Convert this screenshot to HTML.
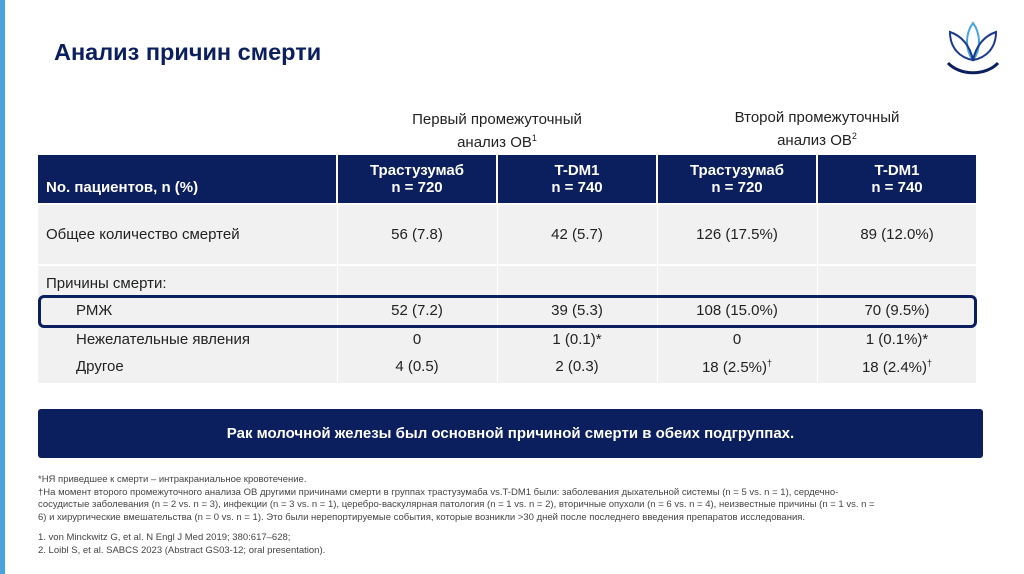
<!DOCTYPE html>
<html><head><meta charset="utf-8"><style>
*{margin:0;padding:0;box-sizing:border-box}
body{width:1024px;height:574px;overflow:hidden;background:#fff;font-family:"Liberation Sans",sans-serif;position:relative;color:#222}
.a{position:absolute}
.hd{background:#0b1f5e;color:#fff;font-weight:bold;font-size:15px;text-align:center;line-height:17px}
.c{text-align:center;font-size:15px}
.bg{background:#f1f1f1}
</style></head><body>
<div class="a" style="left:0;top:0;width:5px;height:574px;background:#4aa3df"></div>
<div class="a" style="left:54px;top:39px;font-size:23.5px;font-weight:bold;color:#0b1f5e">Анализ причин смерти</div>
<svg class="a" style="left:940px;top:20px" width="66" height="60" viewBox="0 0 66 60">
<path d="M33 3 C25 14 25 30 33 40 C41 30 41 14 33 3Z" fill="none" stroke="#4aa3df" stroke-width="2"/>
<path d="M10 12 C10 28 20 38 33 40 C30 26 22 16 10 12Z" fill="none" stroke="#1a3a8a" stroke-width="2"/>
<path d="M56 12 C56 28 46 38 33 40 C36 26 44 16 56 12Z" fill="none" stroke="#1a3a8a" stroke-width="2"/>
<path d="M8 43 C20 56 46 56 58 43" fill="none" stroke="#0b1f5e" stroke-width="3"/>
</svg>
<div class="a c" style="left:337px;top:110px;width:320px;font-size:15px;line-height:19px">Первый промежуточный<br>анализ ОВ<sup style="font-size:9px">1</sup></div>
<div class="a c" style="left:657px;top:108px;width:320px;font-size:15px;line-height:19px">Второй промежуточный<br>анализ ОВ<sup style="font-size:9px">2</sup></div>

<div class="a hd" style="left:38px;top:155px;width:298px;height:48px;text-align:left;padding:24px 0 0 8px">No. пациентов, n (%)</div>
<div class="a hd" style="left:338px;top:155px;width:158px;height:48px;padding-top:7px">Трастузумаб<br>n = 720</div>
<div class="a hd" style="left:498px;top:155px;width:158px;height:48px;padding-top:7px">T-DM1<br>n = 740</div>
<div class="a hd" style="left:658px;top:155px;width:158px;height:48px;padding-top:7px">Трастузумаб<br>n = 720</div>
<div class="a hd" style="left:818px;top:155px;width:158px;height:48px;padding-top:7px">T-DM1<br>n = 740</div>

<div class="a bg" style="left:38px;top:205px;width:938px;height:59px"></div>
<div class="a bg" style="left:38px;top:266px;width:938px;height:117px"></div>
<div class="a" style="left:337px;top:205px;width:1px;height:178px;background:#fff"></div>
<div class="a" style="left:497px;top:205px;width:1px;height:178px;background:#fff"></div>
<div class="a" style="left:657px;top:205px;width:1px;height:178px;background:#fff"></div>
<div class="a" style="left:817px;top:205px;width:1px;height:178px;background:#fff"></div>

<div class="a" style="left:46px;top:226px;font-size:15px">Общее количество смертей</div>
<div class="a c" style="left:338px;top:226px;width:158px">56 (7.8)</div>
<div class="a c" style="left:498px;top:226px;width:158px">42 (5.7)</div>
<div class="a c" style="left:658px;top:226px;width:158px">126 (17.5%)</div>
<div class="a c" style="left:818px;top:226px;width:158px">89 (12.0%)</div>

<div class="a" style="left:46px;top:275px;font-size:15px">Причины смерти:</div>
<div class="a" style="left:76px;top:302px;font-size:15px">РМЖ</div>
<div class="a c" style="left:338px;top:302px;width:158px">52 (7.2)</div>
<div class="a c" style="left:498px;top:302px;width:158px">39 (5.3)</div>
<div class="a c" style="left:658px;top:302px;width:158px">108 (15.0%)</div>
<div class="a c" style="left:818px;top:302px;width:158px">70 (9.5%)</div>
<div class="a" style="left:76px;top:331px;font-size:15px">Нежелательные явления</div>
<div class="a c" style="left:338px;top:331px;width:158px">0</div>
<div class="a c" style="left:498px;top:331px;width:158px">1 (0.1)*</div>
<div class="a c" style="left:658px;top:331px;width:158px">0</div>
<div class="a c" style="left:818px;top:331px;width:158px">1 (0.1%)*</div>
<div class="a" style="left:76px;top:358px;font-size:15px">Другое</div>
<div class="a c" style="left:338px;top:358px;width:158px">4 (0.5)</div>
<div class="a c" style="left:498px;top:358px;width:158px">2 (0.3)</div>
<div class="a c" style="left:658px;top:358px;width:158px">18 (2.5%)<sup style="font-size:9px">†</sup></div>
<div class="a c" style="left:818px;top:358px;width:158px">18 (2.4%)<sup style="font-size:9px">†</sup></div>

<div class="a" style="left:38px;top:295px;width:939px;height:33px;border:3px solid #0b1f5e;border-radius:6px"></div>

<div class="a" style="left:38px;top:409px;width:945px;height:49px;background:#0b1f5e;border-radius:3px;color:#fff;font-weight:bold;font-size:15px;text-align:center;line-height:49px">Рак молочной железы был основной причиной смерти в обеих подгруппах.</div>

<div class="a" style="left:38px;top:474px;width:960px;font-size:9.5px;line-height:12.5px;color:#444;white-space:nowrap">*НЯ приведшее к смерти – интракраниальное кровотечение.<br>†На момент второго промежуточного анализа ОВ другими причинами смерти в группах трастузумаба vs.T-DM1 были: заболевания дыхательной системы (n = 5 vs. n = 1), сердечно-<br>сосудистые заболевания (n = 2 vs. n = 3), инфекции (n = 3 vs. n = 1), церебро-васкулярная патология (n = 1 vs. n = 2), вторичные опухоли (n = 6 vs. n = 4), неизвестные причины (n = 1 vs. n =<br>6) и хирургические вмешательства (n = 0 vs. n = 1). Это были нерепортируемые события, которые возникли &gt;30 дней после последнего введения препаратов исследования.</div>
<div class="a" style="left:38px;top:531px;font-size:9.5px;line-height:13px;color:#444">1. von Minckwitz G, et al. N Engl J Med 2019; 380:617–628;<br>2. Loibl S, et al. SABCS 2023 (Abstract GS03-12; oral presentation).</div>
</body></html>
